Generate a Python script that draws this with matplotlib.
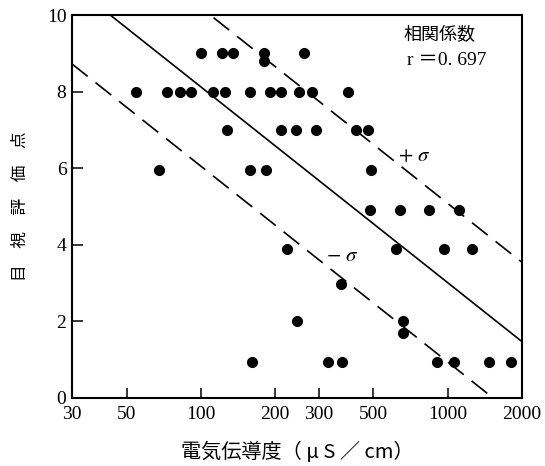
import numpy as np
import matplotlib
matplotlib.use("Agg")
import matplotlib.pyplot as plt
from matplotlib.ticker import FixedLocator, FixedFormatter, NullLocator

plt.rcParams['font.family'] = ['Noto Sans CJK JP', 'DejaVu Sans']
plt.rcParams['mathtext.fontset'] = 'stix'

# conductivity (uS/cm) and visual rating
cond = [100, 122, 135, 180, 262,
        180,
        54.5, 73, 82.4, 91.3, 112, 125, 158, 190, 211, 250, 283, 393,
        127.5, 211, 242, 292, 425, 477,
        67.4, 158, 184, 489,
        484, 639, 842, 1108,
        224, 617, 963, 1258,
        368,
        244, 657,
        657,
        161, 326, 372, 907, 1061, 1475, 1811]
score = [9, 9, 9, 9, 9,
         8.8,
         8, 8, 8, 8, 8, 8, 8, 8, 8, 8, 8, 8,
         7, 7, 7, 7, 7, 7,
         5.96, 5.96, 5.96, 5.96,
         4.9, 4.9, 4.9, 4.9,
         3.9, 3.9, 3.9, 3.9,
         2.97,
         2.0, 2.0,
         1.7,
         0.95, 0.95, 0.95, 0.95, 0.95, 0.95, 0.95]

# regression line y = a - b*log10(x), with +/- sigma bands
reg_a = 18.34
reg_b = 5.11
sigma = 2.07
r_value = "0. 697"

xticks = [30, 50, 100, 200, 300, 500, 1000, 2000]
yticks = [0, 2, 4, 6, 8, 10]

fig = plt.figure(figsize=(5.45, 4.66), dpi=100)
ax = fig.add_axes([72/545, 68/466, 450/545, 383/466])
ax.set_xscale('log')
ax.set_xlim(30, 2000)
ax.set_ylim(0, 10)

xs = np.logspace(np.log10(30), np.log10(2000), 200)
yreg = reg_a - reg_b * np.log10(xs)
ax.plot(xs, yreg, color='black', lw=1.2, solid_capstyle='butt')
ax.plot(xs, yreg + sigma, color='black', lw=1.2, dashes=(12, 6))
ax.plot(xs, yreg - sigma, color='black', lw=1.2, dashes=(12, 6))

ax.plot(cond, score, 'o', color='black', markersize=7, clip_on=False)

ax.xaxis.set_major_locator(FixedLocator(xticks))
ax.xaxis.set_major_formatter(FixedFormatter([str(t) for t in xticks]))
ax.xaxis.set_minor_locator(NullLocator())
ax.set_yticks(yticks)
ax.set_yticklabels([str(t) for t in yticks])

for lab in ax.get_xticklabels() + ax.get_yticklabels():
    lab.set_fontfamily('Liberation Serif')
    lab.set_fontsize(14)

ax.tick_params(axis='x', direction='in', length=7, width=1.1, pad=6)
ax.tick_params(axis='y', direction='in', length=8, width=1.1, pad=4)
ax.tick_params(top=False, right=False)
for s in ax.spines.values():
    s.set_linewidth(1.5)

ax.set_xlabel('電気伝導度（ μ S ／ cm）', fontsize=14.5, labelpad=13)
ax.set_ylabel('目　視　評　価　点', fontsize=12, labelpad=13)

ax.text(0.8156, 0.948, '相関係数', transform=ax.transAxes, fontsize=13,
        ha='center', va='center')
ax.text(0.833, 0.8825, 'r ＝' + r_value, transform=ax.transAxes, fontsize=14,
        family=['Liberation Serif', 'Noto Sans CJK JP'], ha='center', va='center')
ax.text(0.76, 0.634, r'$+\ \sigma$', transform=ax.transAxes, fontsize=15,
        ha='center', va='center')
ax.text(0.60, 0.373, r'$-\ \sigma$', transform=ax.transAxes, fontsize=15,
        ha='center', va='center')

fig.savefig('out.png', dpi=100)
